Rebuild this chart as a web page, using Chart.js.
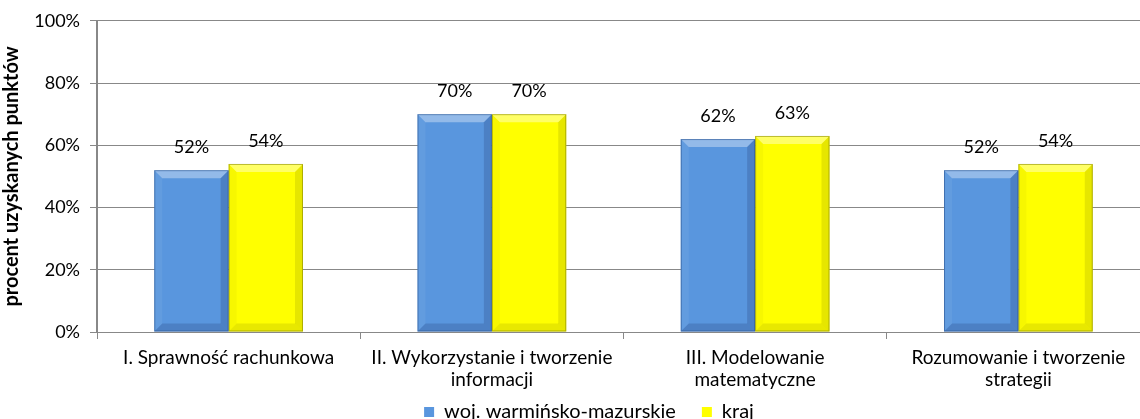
<!DOCTYPE html>
<html>
<head>
<meta charset="utf-8">
<script src="https://cdn.jsdelivr.net/npm/chart.js@4.4.1/dist/chart.umd.min.js"></script>
<style>
  html, body { margin: 0; padding: 0; background: #fff; overflow: hidden; }
  #wrap { width: 1150px; height: 419px; }
</style>
</head>
<body>
<div id="wrap"><canvas id="chart"></canvas></div>
<script>
// data
const categories = [
    'I. Sprawność rachunkowa',
    ['II. Wykorzystanie i tworzenie', 'informacji'],
    ['III. Modelowanie', 'matematyczne'],
    ['Rozumowanie i tworzenie', 'strategii']
];
const wojValues = [52, 70, 62, 52];
const krajValues = [54, 70, 63, 54];
const seriesNames = ['woj. warmińsko-mazurskie', 'kraj'];
const yTicks = [0, 20, 40, 60, 80, 100];

const FONT = 'Lato';

// fake 3D bevel on each bar, like the Excel original
const bevelPlugin = {
    id: 'bevel',
    afterDatasetsDraw(chart) {
        const ctx = chart.ctx;
        chart.data.datasets.forEach((ds, i) => {
            const meta = chart.getDatasetMeta(i);
            meta.data.forEach(bar => {
                const l = bar.x - bar.width / 2, r = bar.x + bar.width / 2;
                const t = bar.y, b = bar.base, e = 8;
                const quad = (pts, col) => {
                    ctx.beginPath();
                    ctx.moveTo(pts[0][0], pts[0][1]);
                    for (let k = 1; k < pts.length; k++) ctx.lineTo(pts[k][0], pts[k][1]);
                    ctx.closePath();
                    ctx.fillStyle = col;
                    ctx.fill();
                };
                ctx.save();
                quad([[l, t], [r, t], [r - e, t + e], [l + e, t + e]], ds.bevelColors[0]);
                quad([[l, t], [l + e, t + e], [l + e, b - e], [l, b]], ds.bevelColors[1]);
                quad([[r, t], [r, b], [r - e, b - e], [r - e, t + e]], ds.bevelColors[2]);
                quad([[l, b], [l + e, b - e], [r - e, b - e], [r, b]], ds.bevelColors[3]);
                ctx.strokeStyle = ds.bevelColors[4];
                ctx.lineWidth = 1;
                ctx.strokeRect(l + 0.5, t + 0.5, r - l - 1, b - t - 1);
                ctx.restore();
            });
        });
    }
};

// value labels above the bars
const valueLabels = {
    id: 'valueLabels',
    afterDatasetsDraw(chart) {
        const ctx = chart.ctx;
        ctx.save();
        ctx.font = `18px ${FONT}`;
        ctx.fillStyle = '#000';
        ctx.textAlign = 'center';
        ctx.textBaseline = 'middle';
        chart.data.datasets.forEach((ds, i) => {
            chart.getDatasetMeta(i).data.forEach((bar, j) => {
                ctx.fillText(ds.data[j] + '%', bar.x, bar.y - 23);
            });
        });
        ctx.restore();
    }
};

// move the legend to where the original has it
const legendShift = {
    id: 'legendShift',
    afterLayout(chart) {
        const lg = chart.legend;
        if (lg) {
            lg.left += 14;
            lg.right += 14;
            lg.top -= 23;
            lg.bottom -= 23;
        }
    }
};

new Chart(document.getElementById('chart').getContext('2d'), {
    type: 'bar',
    data: {
        labels: categories,
        datasets: [
            {
                label: seriesNames[0],
                data: wojValues,
                backgroundColor: '#5996de',
                bevelColors: ['rgba(255,255,255,0.35)', 'rgba(255,255,255,0.06)', 'rgba(0,0,40,0.14)', 'rgba(0,0,40,0.14)', 'rgba(40,80,140,0.55)'],
                categoryPercentage: 0.565,
                barPercentage: 1
            },
            {
                label: seriesNames[1],
                data: krajValues,
                backgroundColor: '#ffff00',
                bevelColors: ['rgba(255,255,255,0.4)', 'rgba(90,90,0,0.05)', 'rgba(90,90,0,0.15)', 'rgba(90,90,0,0.14)', 'rgba(130,130,0,0.55)'],
                categoryPercentage: 0.565,
                barPercentage: 1
            }
        ]
    },
    options: {
        responsive: true,
        maintainAspectRatio: false,
        animation: false,
        layout: { padding: { top: 16, right: 0, left: 0, bottom: -36 } },
        plugins: {
            tooltip: { enabled: false },
            legend: {
                position: 'bottom',
                labels: {
                    font: { family: FONT, size: 20 },
                    color: '#000',
                    boxWidth: 10,
                    boxHeight: 10,
                    padding: 26
                }
            }
        },
        scales: {
            x: {
                afterFit(scale) { scale.height = 67; },
                grid: { display: true, drawOnChartArea: false, offset: true, tickLength: 7, color: '#888' },
                border: { color: '#888', width: 1 },
                ticks: {
                    font: { family: FONT, size: 19, lineHeight: 1.2 },
                    color: '#000',
                    maxRotation: 0,
                    autoSkip: false,
                    padding: 7
                }
            },
            y: {
                min: 0,
                max: 100,
                afterBuildTicks(scale) {
                    scale.ticks = yTicks.map(v => ({ value: v }));
                },
                afterFit(scale) { scale.width = 97; },
                grid: { color: '#888', lineWidth: 1, tickLength: 7 },
                border: { color: '#888', width: 2 },
                ticks: {
                    font: { family: FONT, size: 18 },
                    color: '#000',
                    padding: 10,
                    callback: v => v + '%'
                },
                title: {
                    display: true,
                    text: 'procent uzyskanych punktów',
                    font: { family: FONT, size: 20, weight: 'bold' },
                    color: '#000',
                    padding: { top: 0, bottom: 0 }
                }
            }
        }
    },
    plugins: [bevelPlugin, valueLabels, legendShift]
});
</script>
</body>
</html>
